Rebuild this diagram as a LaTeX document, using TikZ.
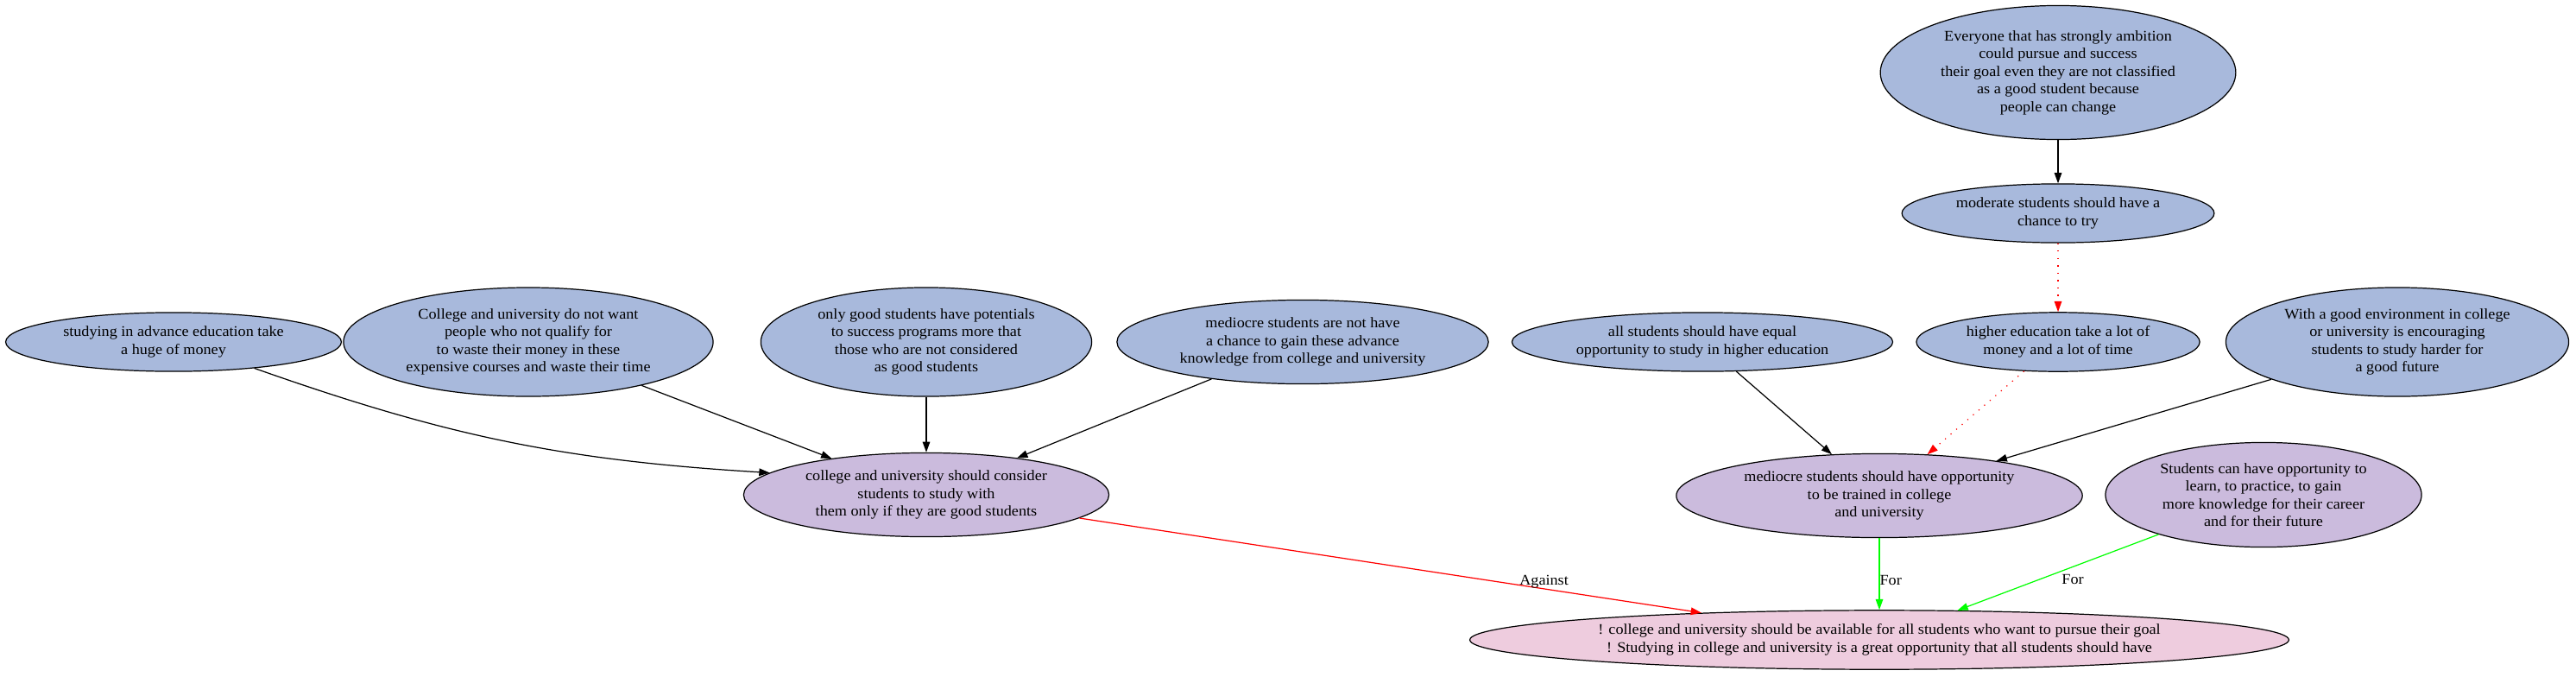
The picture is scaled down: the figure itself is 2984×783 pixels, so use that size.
\documentclass[tikz,border=0pt]{standalone}
\usepackage{fontspec}
\setmainfont{Liberation Serif}[FakeStretch=1.065]
\usetikzlibrary{shapes.geometric, arrows.meta}
\definecolor{argblue}{HTML}{A8B9DC}
\definecolor{argpurple}{HTML}{CBBBDD}
\definecolor{argpink}{HTML}{EECCDE}
\definecolor{argred}{HTML}{FF0000}
\definecolor{arggreen}{HTML}{00FF00}

\begin{document}
\begin{tikzpicture}[x=0.82pt, y=-0.82pt, >={Triangle[length=10pt,width=7pt]},
    pr/.style={ellipse, draw, line width=1pt, fill=argblue, font=\fontsize{14}{16.8}\selectfont, align=center, inner xsep=8pt, inner ysep=5pt},
    cl/.style={pr, fill=argpurple},
    gl/.style={pr, fill=argpink},
    lb/.style={font=\fontsize{14}{16.8}\selectfont, text=black, inner sep=0pt}]
  \useasboundingbox (0,0) rectangle (2984,783);
  % top chain
  \node[pr] (ev) at (2384,84) {Everyone that has strongly ambition\\could pursue and success\\their goal even they are not classified\\as a good student because\\people can change};
  \node[pr] (mod) at (2384,247) {moderate students should have a\\chance to try};
  % premises
  \node[pr] (stu) at (201,396) {studying in advance education take\\a huge of money};
  \node[pr] (want) at (612,396) {College and university do not want\\people who not qualify for\\to waste their money in these\\expensive courses and waste their time};
  \node[pr] (pot) at (1073,396) {only good students have potentials\\to success programs more that\\those who are not considered\\as good students};
  \node[pr] (not) at (1509,396) {mediocre students are not have\\a chance to gain these advance\\knowledge from college and university};
  \node[pr] (all) at (1972,396) {all students should have equal\\opportunity to study in higher education};
  \node[pr] (hig) at (2384,396) {higher education take a lot of\\money and a lot of time};
  \node[pr] (env) at (2777,396) {With a good environment in college\\or university is encouraging\\students to study harder for\\a good future};
  % claims
  \node[cl] (cons) at (1073,573) {college and university should consider\\students to study with\\them only if they are good students};
  \node[cl] (med) at (2177,574) {mediocre students should have opportunity\\to be trained in college\\and university};
  \node[cl] (can) at (2622,573) {Students can have opportunity to\\learn, to practice, to gain\\more knowledge for their career\\and for their future};
  \node[gl] (goal) at (2177,741) {! college and university should be available for all students who want to pursue their goal\\! Studying in college and university is a great opportunity that all students should have};

  \draw[->,line width=1pt] (stu.-18) to[bend right=8] (cons.172);
  \draw[->,line width=1pt] (want) -- (cons);
  \draw[->,line width=1pt] (pot) -- (cons);
  \draw[->,line width=1pt] (not) -- (cons);
  \draw[->,line width=1pt] (ev) -- (mod);
  \draw[->,line width=1pt,argred,dash pattern=on 1pt off 6pt] (mod) -- (hig);
  \draw[->,line width=1pt,argred,dash pattern=on 1pt off 6pt] (hig) -- (med);
  \draw[->,line width=1pt] (all) -- (med);
  \draw[->,line width=1pt] (env) -- (med);
  \draw[->,line width=1pt,argred] (cons) -- node[lb, pos=0.747, yshift=7pt] {Against} (goal);
  \draw[->,line width=1pt,arggreen] (med) -- node[lb, pos=0.59, anchor=west] {For} (goal);
  \draw[->,line width=1pt,arggreen] (can) -- node[lb, pos=0.427, yshift=-12pt] {For} (goal);
\end{tikzpicture}
\end{document}
